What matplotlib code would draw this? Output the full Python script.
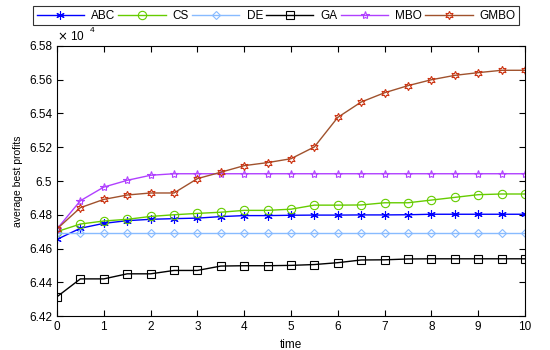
import matplotlib
matplotlib.use("Agg")
import matplotlib.pyplot as plt
from matplotlib.ticker import FuncFormatter

plt.rcParams['font.family'] = ['Liberation Sans', 'DejaVu Sans']

time = [0, 0.5, 1, 1.5, 2, 2.5, 3, 3.5, 4, 4.5, 5, 5.5, 6, 6.5, 7, 7.5, 8, 8.5, 9, 9.5, 10]

abc = [6.4654, 6.4720, 6.4749, 6.4765, 6.4773, 6.4777, 6.4780, 6.4789, 6.4795, 6.4795, 6.4797,
       6.4798, 6.4798, 6.4799, 6.4799, 6.4800, 6.4803, 6.4803, 6.4803, 6.4803, 6.4803]
cs = [6.4700, 6.4745, 6.4763, 6.4773, 6.4790, 6.4800, 6.4808, 6.4815, 6.4826, 6.4826, 6.4833,
      6.4857, 6.4857, 6.4858, 6.4871, 6.4871, 6.4887, 6.4903, 6.4919, 6.4923, 6.4923]
de = [6.4690] * 21
ga = [6.4314, 6.4420, 6.4420, 6.4450, 6.4450, 6.4470, 6.4470, 6.4496, 6.4498, 6.4498, 6.4500,
      6.4505, 6.4516, 6.4532, 6.4533, 6.4538, 6.4539, 6.4539, 6.4539, 6.4539, 6.4539]
mbo = [6.4716, 6.4883, 6.4964, 6.5004, 6.5034, 6.5043, 6.5043, 6.5043, 6.5043, 6.5043, 6.5043,
       6.5043, 6.5043, 6.5043, 6.5043, 6.5043, 6.5043, 6.5043, 6.5043, 6.5043, 6.5043]
gmbo = [6.4716, 6.4842, 6.4891, 6.4917, 6.4929, 6.4929, 6.5014, 6.5052, 6.5091, 6.5109, 6.5132,
        6.5202, 6.5377, 6.5468, 6.5523, 6.5565, 6.5600, 6.5626, 6.5642, 6.5656, 6.5656]

series_names = ['ABC', 'CS', 'DE', 'GA', 'MBO', 'GMBO']
xticks = list(range(0, 11))
yticks = [6.42, 6.44, 6.46, 6.48, 6.50, 6.52, 6.54, 6.56, 6.58]

fig = plt.figure(figsize=(5.5, 3.5), dpi=100)
ax = fig.add_axes([0.1036, 0.0971, 0.8509, 0.7715])

styles = [
    dict(color='#0000ff', marker=(6, 2, 0), mfc='none', mec='#0000ff', ms=6),
    dict(color='#66cc00', marker='o', mfc='none', mec='#66cc00', ms=6),
    dict(color='#88bbff', marker='D', mfc='none', mec='#88bbff', ms=4.5),
    dict(color='#000000', marker='s', mfc='none', mec='#000000', ms=6),
    dict(color='#b040ff', marker='*', mfc='none', mec='#b040ff', ms=6),
    dict(color='#a0522d', marker=(6, 1, 0), mfc='none', mec='#cc3311', ms=6),
]
data = [abc, cs, de, ga, mbo, gmbo]
for name, y, st in zip(series_names, data, styles):
    ax.plot(time, y, label=name, lw=1.0, mew=0.8, **st)

ax.set_xlim(0, 10)
ax.set_ylim(6.42, 6.58)
ax.set_xticks(xticks)
ax.set_yticks(yticks)
ax.yaxis.set_major_formatter(FuncFormatter(lambda v, p: '%g' % round(v, 4)))
ax.tick_params(direction='in', top=True, right=True, labelsize=8.5, length=4, width=0.8)
for s in ax.spines.values():
    s.set_linewidth(0.8)

ax.set_xlabel('time', fontsize=8.5, labelpad=2)
ax.xaxis.set_label_coords(0.5, -0.085)
ax.set_ylabel('average best profits', fontsize=7.5, labelpad=4)

ax.text(0.0, 1.01, r'$\times$ 10', transform=ax.transAxes, fontsize=8.5, va='bottom', ha='left')
ax.text(0.07, 1.045, '4', transform=ax.transAxes, fontsize=6, va='bottom', ha='left')

leg = fig.legend(loc='lower left', bbox_to_anchor=(0.06, 0.928, 0.884, 0.06), mode='expand',
                 ncol=6, fontsize=8.5, frameon=True, fancybox=False, edgecolor='black',
                 borderpad=0.3, handlelength=4, columnspacing=0.8, handletextpad=0.6,
                 borderaxespad=0)
leg.get_frame().set_linewidth(0.8)

fig.savefig('out.png', dpi=100)
